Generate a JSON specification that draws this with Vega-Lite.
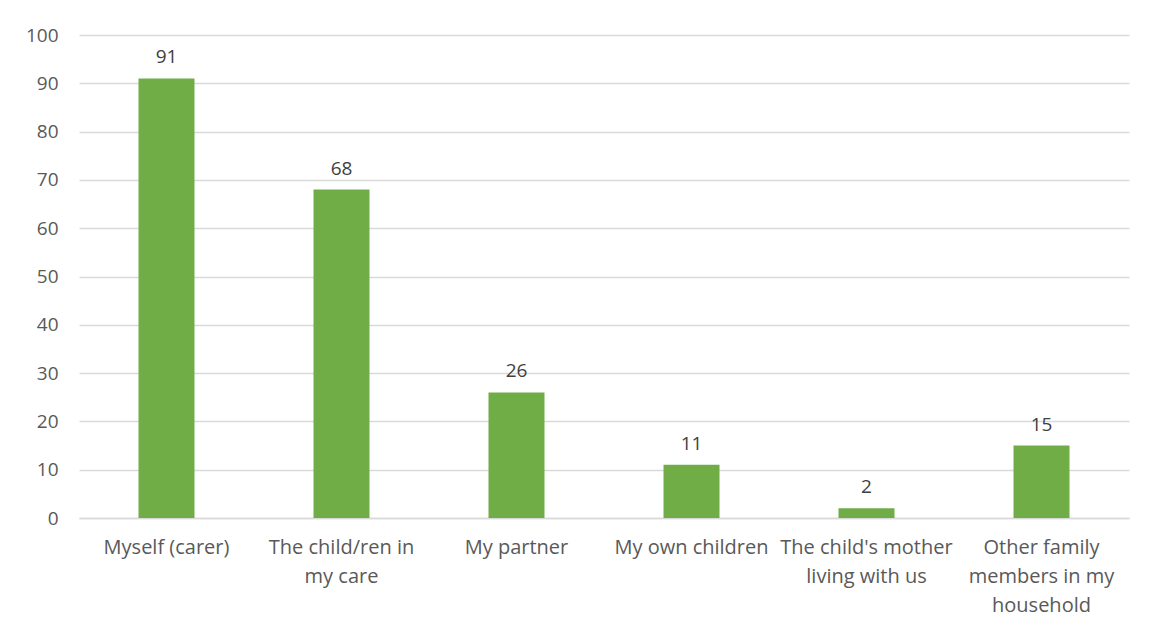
{
  "$schema": "https://vega.github.io/schema/vega-lite/v6.json",
  "width": 1050,
  "height": 483,
  "autosize": {"type": "none"},
  "padding": {"left": 79, "top": 35, "right": 20, "bottom": 115},
  "background": "white",
  "config": {
    "font": "Open Sans",
    "view": {"stroke": null}
  },
  "data": {
    "values": [
      {"category": "Myself (carer)", "value": 91},
      {"category": "The child/ren in my care", "value": 68},
      {"category": "My partner", "value": 26},
      {"category": "My own children", "value": 11},
      {"category": "The child's mother living with us", "value": 2},
      {"category": "Other family members in my household", "value": 15}
    ]
  },
  "encoding": {
    "x": {
      "field": "category",
      "type": "nominal",
      "sort": null,
      "scale": {"paddingInner": 0.68, "paddingOuter": 0.34},
      "axis": {
        "title": null,
        "labelAngle": 0,
        "labelFontSize": 20,
        "labelColor": "#595959",
        "labelPadding": 19,
        "labelLineHeight": 29,
        "labelBaseline": "top",
        "labelLimit": 300,
        "ticks": false,
        "domainColor": "#D9D9D9",
        "domainWidth": 1.5,
        "labelExpr": "datum.label == 'The child/ren in my care' ? ['The child/ren in', 'my care'] : datum.label == \"The child's mother living with us\" ? [\"The child's mother\", 'living with us'] : datum.label == 'Other family members in my household' ? ['Other family', 'members in my', 'household'] : datum.label"
      }
    },
    "y": {
      "field": "value",
      "type": "quantitative",
      "scale": {"domain": [0, 100]},
      "axis": {
        "title": null,
        "values": [0, 10, 20, 30, 40, 50, 60, 70, 80, 90, 100],
        "labelFontSize": 19,
        "labelColor": "#595959",
        "labelPadding": 21,
        "ticks": false,
        "domain": false,
        "gridColor": "#D9D9D9",
        "gridWidth": 1.5
      }
    }
  },
  "layer": [
    {"mark": {"type": "bar", "color": "#70AD47"}},
    {
      "mark": {"type": "text", "baseline": "bottom", "dy": -11, "fontSize": 19, "color": "#404040"},
      "encoding": {"text": {"field": "value", "type": "quantitative"}}
    }
  ]
}
